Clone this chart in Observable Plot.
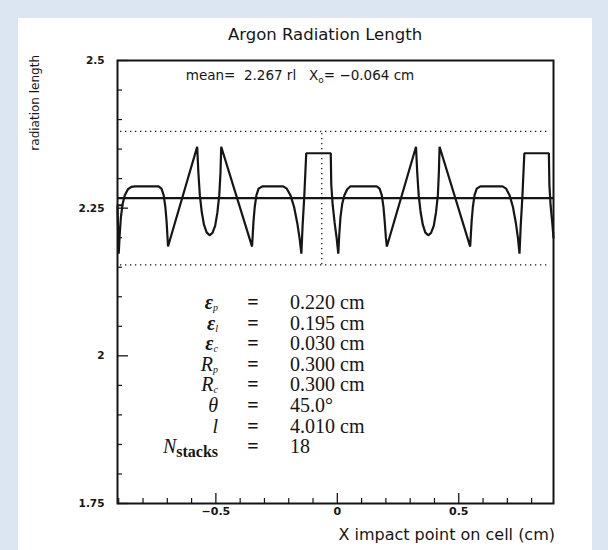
<!DOCTYPE html>
<html><head><meta charset="utf-8">
<script src="https://cdn.jsdelivr.net/npm/d3@7"></script>
<script src="https://cdn.jsdelivr.net/npm/@observablehq/plot@0.6"></script>
<style>
html,body{margin:0;padding:0}
body{background:#dce6f2;width:608px;height:550px;overflow:hidden;position:relative}
#panel{position:absolute;left:18px;top:18px;width:574px;height:532px;background:#fff}
#chart{position:absolute;left:0;top:0}
</style></head><body><div id="panel"></div><div id="chart"></div>
<script>
const title = "Argon Radiation Length";
const xLabel = "X impact point on cell (cm)";
const yLabel = "radiation length";
const meanValue = 2.267;
const x0Value = -0.064;
const bandValues = [2.154, 2.380];
const yTicks = [1.75, 2, 2.25, 2.5];
const yTickLabels = ["1.75", "2", "2.25", "2.5"];
const yMinor = [1.8, 1.85, 1.9, 1.95, 2.05, 2.1, 2.15, 2.2, 2.3, 2.35, 2.4, 2.45];
const xTicks = [-0.5, 0, 0.5];
const xTickLabels = ["\u22120.5", "0", "0.5"];
const xMinor = [-0.9, -0.8, -0.7, -0.6, -0.4, -0.3, -0.2, -0.1, 0.1, 0.2, 0.3, 0.4, 0.6, 0.7, 0.8];

// radiation length curve
const curveX = [-0.905,-0.900,-0.896,-0.891,-0.884,-0.875,-0.862,-0.848,-0.833,-0.736,-0.724,-0.715,-0.708,-0.703,-0.699,-0.697,
 -0.577,-0.572,-0.566,-0.558,-0.549,-0.538,-0.526,-0.514,-0.503,-0.494,-0.486,-0.481,-0.478,
 -0.351,-0.349,-0.345,-0.340,-0.333,-0.324,-0.309,-0.223,-0.208,-0.193,-0.178,-0.165,-0.155,-0.148,
 -0.143,-0.136,-0.128,-0.027,-0.025,-0.019,-0.011,-0.003,0.004,
 0.008,0.013,0.020,0.029,0.041,0.054,0.162,0.174,0.183,0.190,0.195,0.200,0.204,
 0.324,0.329,0.335,0.343,0.352,0.362,0.374,0.386,0.397,0.406,0.414,0.418,0.421,
 0.547,0.549,0.553,0.558,0.565,0.574,0.589,0.680,0.695,0.709,0.723,0.735,0.744,0.750,
 0.755,0.762,0.770,0.871,0.873,0.878,0.885,0.890];
const curveY = [2.252,2.173,2.205,2.235,2.257,2.272,2.282,2.286,2.287,2.287,2.283,2.272,2.252,2.228,2.200,2.185,
 2.354,2.310,2.272,2.243,2.222,2.209,2.204,2.208,2.220,2.242,2.272,2.310,2.354,
 2.185,2.200,2.228,2.252,2.272,2.283,2.287,2.287,2.283,2.272,2.252,2.225,2.198,2.173,
 2.220,2.270,2.343,2.343,2.290,2.255,2.225,2.200,2.173,
 2.205,2.235,2.257,2.272,2.282,2.287,2.287,2.283,2.272,2.252,2.228,2.200,2.185,
 2.354,2.310,2.272,2.243,2.222,2.209,2.204,2.208,2.220,2.242,2.272,2.310,2.354,
 2.185,2.200,2.228,2.252,2.272,2.283,2.287,2.287,2.283,2.272,2.252,2.225,2.198,2.173,
 2.220,2.270,2.343,2.343,2.290,2.255,2.225,2.200];
const stubX = [-0.905, -0.885];
const stubY = [2.255, 2.255];

const paramNames = [
  {base: "\u03b5", sub: "p", kind: "eps"},
  {base: "\u03b5", sub: "l", kind: "eps"},
  {base: "\u03b5", sub: "c", kind: "eps"},
  {base: "R", sub: "p", kind: "it"},
  {base: "R", sub: "c", kind: "it"},
  {base: "\u03b8", sub: "", kind: "it"},
  {base: "l", sub: "", kind: "it"},
  {base: "N", sub: "stacks", kind: "N"}
];
const paramValues = ["0.220 cm", "0.195 cm", "0.030 cm", "0.300 cm", "0.300 cm", "45.0\u00b0", "4.010 cm", "18"];

const curve = curveX.map((x, i) => ({x, y: curveY[i]}));
const stub = stubX.map((x, i) => ({x, y: stubY[i]}));

const W = 608, H = 550, mL = 117, mR = 55, mT = 60, mB = 47;
const innerW = W - mL - mR, innerH = H - mT - mB;
const ink = "#151515";
const dots = {stroke: ink, strokeWidth: 1.3, strokeDasharray: "1.3,3.7"};

const plot = Plot.plot({
  width: W, height: H,
  marginLeft: mL, marginRight: mR, marginTop: mT, marginBottom: mB,
  x: {domain: [-0.905, 0.89]},
  y: {domain: [1.75, 2.5]},
  style: {background: "transparent", color: ink, fontFamily: "DejaVu Sans"},
  marks: [
    Plot.ruleY(bandValues, {...dots, insetLeft: 3, insetRight: 6}),
    Plot.ruleX([x0Value], {y1: bandValues[0], y2: bandValues[1], ...dots}),
    Plot.ruleY([meanValue], {stroke: ink, strokeWidth: 2.2}),
    Plot.line(curve, {x: "x", y: "y", stroke: ink, strokeWidth: 2.2, strokeLinejoin: "miter"}),
    Plot.line(stub, {x: "x", y: "y", stroke: ink, strokeWidth: 2}),
    Plot.ruleY(yMinor, {y: d => d, insetRight: innerW - 5, stroke: ink, strokeWidth: 1.2}),
    Plot.ruleY(yTicks, {y: d => d, insetRight: innerW - 11, stroke: ink, strokeWidth: 1.3}),
    Plot.ruleX(xMinor, {x: d => d, insetTop: innerH - 5, stroke: ink, strokeWidth: 1.2}),
    Plot.ruleX(xTicks, {x: d => d, insetTop: innerH - 10, stroke: ink, strokeWidth: 1.3}),
    Plot.frame({stroke: ink, strokeWidth: 2}),
    Plot.axisY(yTicks, {tickSize: 0, tickPadding: 13, label: null,
      tickFormat: d => yTickLabels[yTicks.indexOf(d)], fontWeight: "bold", fontSize: 10.5}),
    Plot.axisX(xTicks, {tickSize: 0, tickPadding: 4, label: null,
      tickFormat: d => xTickLabels[xTicks.indexOf(d)], fontWeight: "bold", fontSize: 11})
  ]
});
document.getElementById("chart").appendChild(plot);

const svg = d3.select(plot);
const sans = "DejaVu Sans";
svg.append("text").attr("x", 325).attr("y", 40).attr("text-anchor", "middle")
  .attr("font-family", sans).attr("font-size", 16.5).attr("fill", ink).text(title);

const m = svg.append("text").attr("x", 300).attr("y", 80).attr("text-anchor", "middle").attr("font-family", sans)
  .attr("font-size", 13.5).attr("fill", ink).attr("xml:space", "preserve").style("white-space", "pre");
m.append("tspan").text("mean=  " + meanValue.toFixed(3) + " rl   X");
m.append("tspan").attr("font-size", 9).attr("dy", 3).text("o");
m.append("tspan").attr("dy", -3).text("= \u2212" + Math.abs(x0Value).toFixed(3) + " cm");

svg.append("text").attr("transform", "translate(39,55) rotate(-90)").attr("text-anchor", "end")
  .attr("font-family", sans).attr("font-size", 12).attr("fill", ink).text(yLabel);
svg.append("text").attr("x", 555).attr("y", 540).attr("text-anchor", "end")
  .attr("font-family", sans).attr("font-size", 16).attr("fill", ink).text(xLabel);

const serif = "Liberation Serif";
const rowY = i => 309 + i * 20.6;
paramNames.forEach((p, i) => {
  const t = svg.append("text").attr("x", 218).attr("y", rowY(i)).attr("text-anchor", "end")
    .attr("font-family", serif).attr("font-size", 20).attr("fill", ink);
  const b = t.append("tspan").text(p.base);
  if (p.kind === "eps") b.attr("font-weight", "bold").attr("font-style", "italic");
  else b.attr("font-style", "italic");
  if (p.sub) {
    const s = t.append("tspan").attr("dy", p.kind === "N" ? 4 : 2).attr("font-size", p.kind === "N" ? 16 : 10).text(p.sub);
    if (p.kind === "N") s.attr("font-weight", "bold"); else s.attr("font-style", "italic");
  }
  svg.append("text").attr("x", 253).attr("y", rowY(i)).attr("text-anchor", "middle")
    .attr("font-family", serif).attr("font-size", 20).attr("font-weight", "bold").attr("fill", ink).text("=");
  svg.append("text").attr("x", 290).attr("y", rowY(i)).attr("text-anchor", "start").attr("font-family", serif)
    .attr("font-size", 20).attr("fill", ink).text(paramValues[i]);
});
</script></body></html>
